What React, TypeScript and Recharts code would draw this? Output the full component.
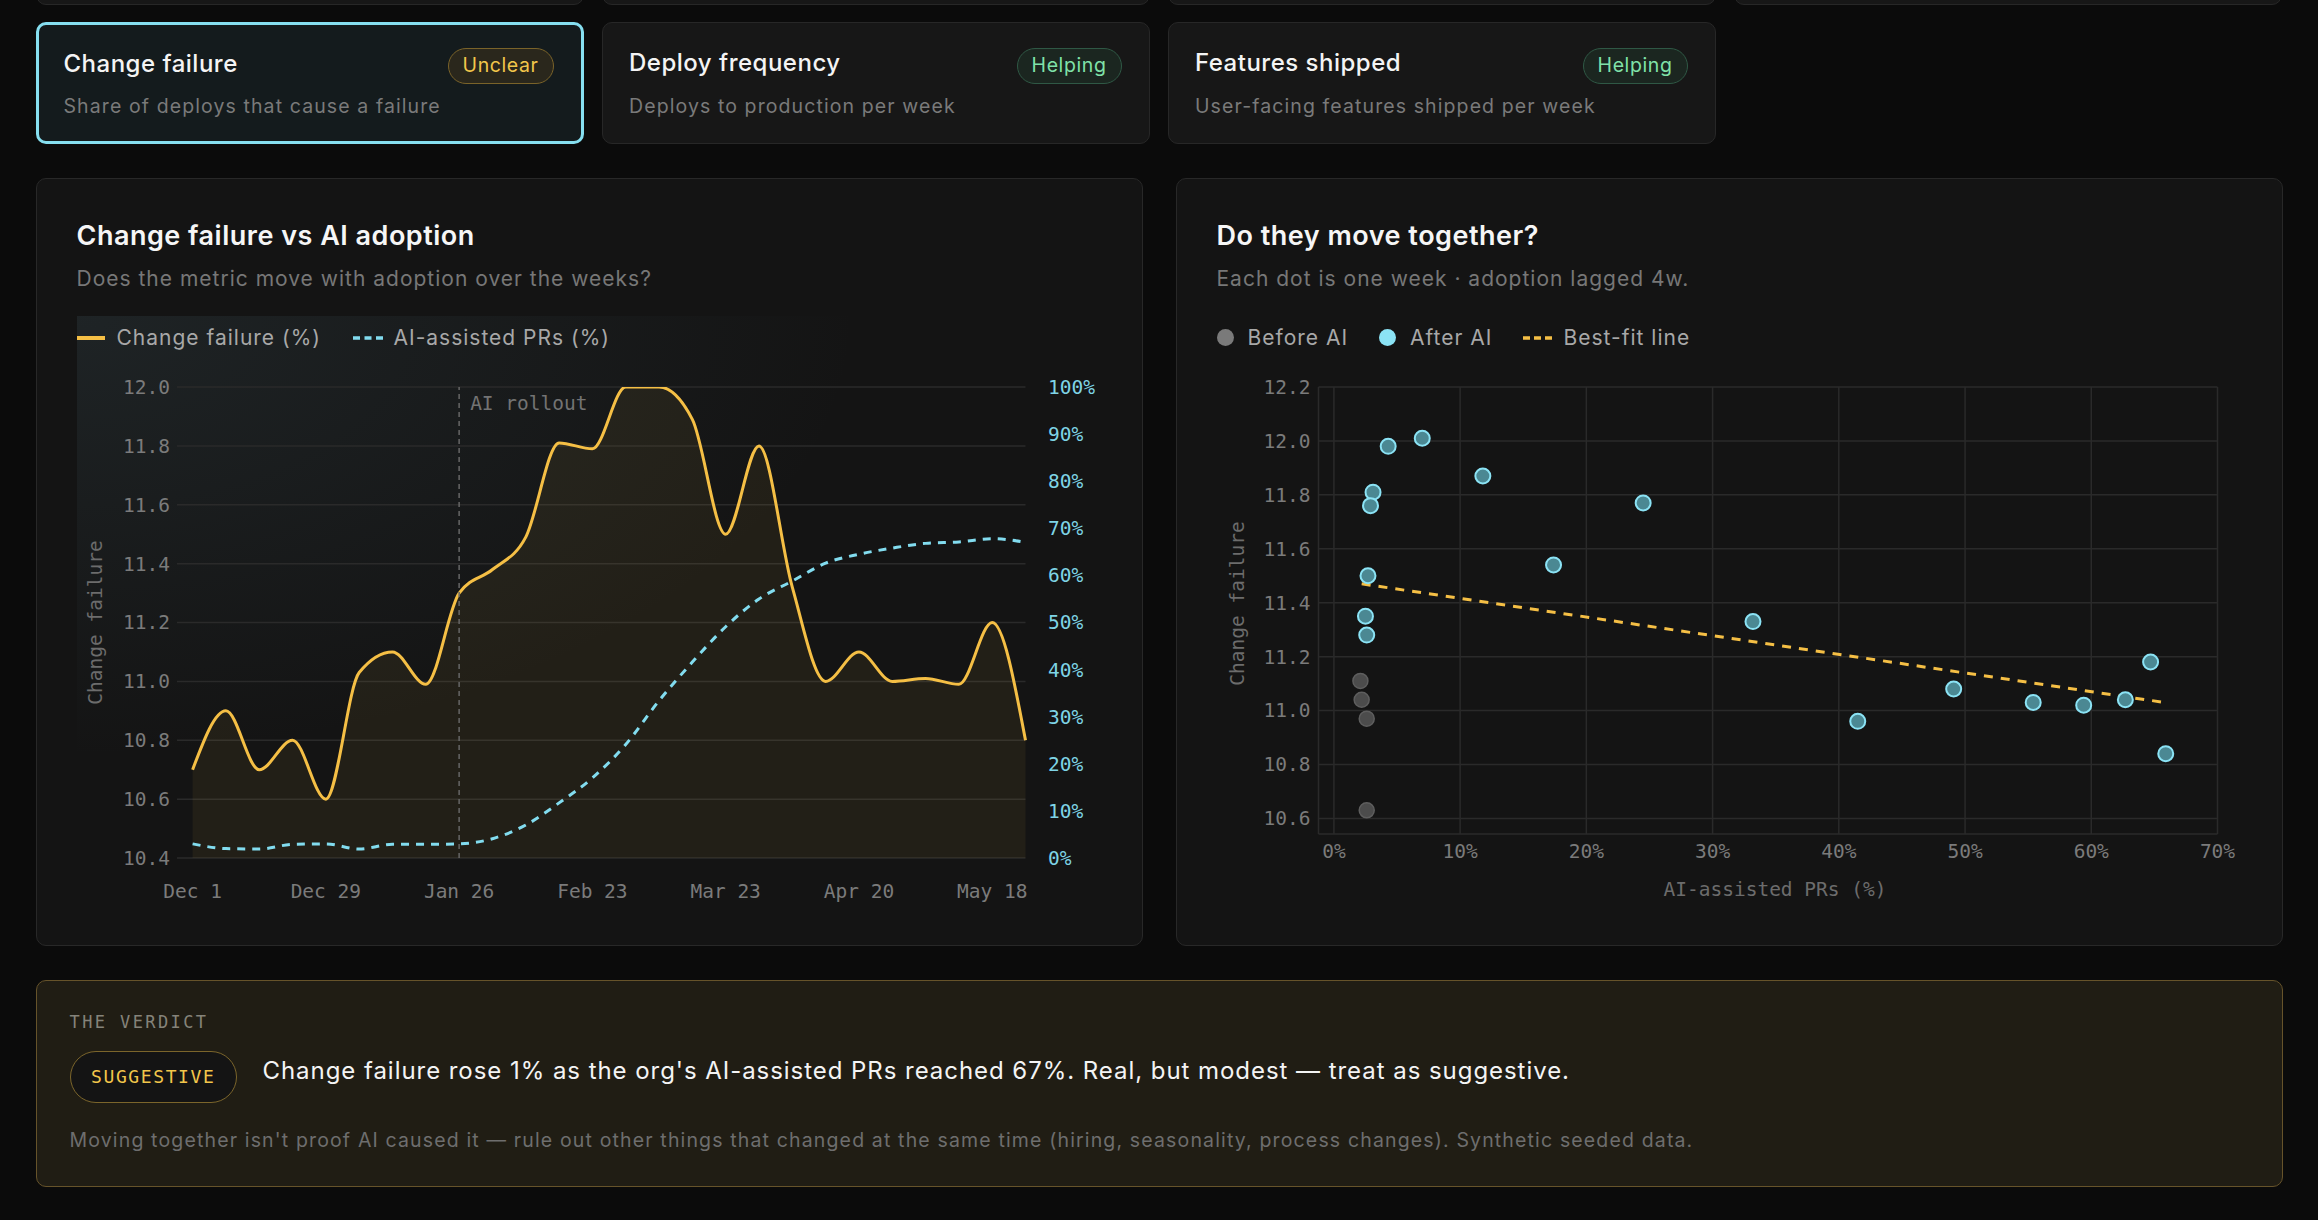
import React from "react";
import {
  ComposedChart,
  Area,
  Line,
  XAxis,
  YAxis,
  CartesianGrid,
  ReferenceLine,
  ScatterChart,
  Scatter,
} from "recharts";

const SANS = 'Inter, "Noto Sans", sans-serif';
const MONO = '"DejaVu Sans Mono", "Liberation Mono", monospace';

const YELLOW = "#f5bf45";
const CYAN = "#82dcef";
const GRID = "#2a2a2a";
const TICK = "#7b7b7b";

// weekly trend (left chart)
const weeks = [
  "Dec 1", "Dec 8", "Dec 15", "Dec 22", "Dec 29", "Jan 5", "Jan 12", "Jan 19",
  "Jan 26", "Feb 2", "Feb 9", "Feb 16", "Feb 23", "Mar 2", "Mar 9", "Mar 16",
  "Mar 23", "Mar 30", "Apr 6", "Apr 13", "Apr 20", "Apr 27", "May 4", "May 11",
  "May 18", "May 25",
];
const changeFailure = [
  10.7, 10.9, 10.7, 10.8, 10.6, 11.03, 11.1, 10.99, 11.3, 11.38, 11.49, 11.81,
  11.79, 12.0, 12.0, 11.89, 11.5, 11.8, 11.32, 11.0, 11.1, 11.0, 11.01, 10.99,
  11.2, 10.8,
];
const aiPrs = [
  3.0, 2.0, 1.9, 2.9, 3.0, 1.9, 2.9, 2.9, 3.0, 4.1, 7.0, 11.7, 17.0, 24.1, 33.4,
  41.6, 49.1, 55.0, 58.8, 62.6, 64.5, 65.8, 66.8, 67.1, 67.8, 67.0,
];
const failureTicks = [10.4, 10.6, 10.8, 11.0, 11.2, 11.4, 11.6, 11.8, 12.0];
const pctTicks = [0, 10, 20, 30, 40, 50, 60, 70, 80, 90, 100];
const rolloutWeek = "Jan 26";

// scatter (right chart)
const beforeX = [2.1, 2.2, 2.6, 2.6];
const beforeY = [11.11, 11.04, 10.97, 10.63];
const afterX = [
  2.6, 2.5, 2.7, 3.1, 2.9, 4.3, 7.0, 11.8, 17.4, 24.5, 33.2, 41.5, 49.1, 55.4,
  59.4, 62.7, 64.7, 65.9,
];
const afterY = [
  11.28, 11.35, 11.5, 11.81, 11.76, 11.98, 12.01, 11.87, 11.54, 11.77, 11.33,
  10.96, 11.08, 11.03, 11.02, 11.04, 11.18, 10.84,
];
const fitX = [2.2, 65.8];
const fitY = [11.47, 11.03];
const scatterXTicks = [0, 10, 20, 30, 40, 50, 60, 70];
const scatterYTicks = [10.6, 10.8, 11.0, 11.2, 11.4, 11.6, 11.8, 12.0, 12.2];

const trend = weeks.map((week, i) => ({ week, failure: changeFailure[i], ai: aiPrs[i] }));
const beforePts = beforeX.map((x, i) => ({ x, y: beforeY[i] }));
const afterPts = afterX.map((x, i) => ({ x, y: afterY[i] }));
const fitPts = fitX.map((x, i) => ({ x, y: fitY[i] }));

const cards = [
  { title: "Change failure", sub: "Share of deploys that cause a failure", badge: "Unclear", selected: true },
  { title: "Deploy frequency", sub: "Deploys to production per week", badge: "Helping", selected: false },
  { title: "Features shipped", sub: "User-facing features shipped per week", badge: "Helping", selected: false },
];
const colLeft = [35.5, 601.5, 1167.5, 1733.5];

function RolloutLabel(props: any) {
  const vb = props.viewBox || { x: 0, y: 0 };
  return (
    <text x={vb.x + 11} y={vb.y + 23} fill="#737373" fontSize={19.5} fontFamily={MONO}>
      AI rollout
    </text>
  );
}

// rotated axis title, centred on the axis box (with a small vertical nudge)
function AxisTitle(props: any) {
  const vb = props.viewBox || { x: 0, y: 0, height: 0 };
  const x = vb.x + props.off;
  const y = vb.y + vb.height / 2 + (props.shift || 0);
  return (
    <text
      x={x}
      y={y}
      transform={`rotate(-90 ${x} ${y})`}
      textAnchor="middle"
      dominantBaseline="central"
      fill="#6c6c6c"
      fontSize={19.5}
      fontFamily={MONO}
    >
      Change failure
    </text>
  );
}

function Badge({ kind, top }: { kind: string; top: number }) {
  const helping = kind === "Helping";
  return (
    <div
      style={{
        position: "absolute",
        right: 27,
        top,
        height: 36,
        padding: "0 14px",
        boxSizing: "border-box",
        borderRadius: 18,
        border: `1.5px solid ${helping ? "#2f5845" : "#7a6329"}`,
        background: helping ? "#1b2620" : "#2a271c",
        color: helping ? "#80e2a9" : "#f2c64b",
        fontSize: 19.5,
        letterSpacing: 0.6,
        lineHeight: "33px",
        fontFamily: SANS,
      }}
    >
      {kind}
    </div>
  );
}

function Card({ c, left }: { c: (typeof cards)[number]; left: number }) {
  const b = c.selected ? 3 : 1.5;
  return (
    <div
      style={{
        position: "absolute",
        left,
        top: 22,
        width: 548,
        height: 122,
        boxSizing: "border-box",
        borderRadius: 10,
        border: c.selected ? "3px solid #86dff0" : "1.5px solid #272727",
        background: c.selected ? "#141b1d" : "#171717",
      }}
    >
      <div
        style={{
          position: "absolute",
          left: 28 - b,
          top: 25.5 - b,
          fontSize: 24,
          fontWeight: 500,
          letterSpacing: 0.5,
          lineHeight: "32px",
          color: "#f4f4f4",
        }}
      >
        {c.title}
      </div>
      <div
        style={{
          position: "absolute",
          left: 28 - b,
          top: 70.4 - b,
          fontSize: 19.5,
          letterSpacing: 1.1,
          lineHeight: "28px",
          color: "#7a7a7a",
        }}
      >
        {c.sub}
      </div>
      <Badge kind={c.badge} top={26 - b} />
    </div>
  );
}

const panelStyle: React.CSSProperties = {
  position: "absolute",
  top: 177.5,
  width: 1107.5,
  height: 768.5,
  boxSizing: "border-box",
  borderRadius: 10,
  border: "1.5px solid #282828",
  background: "#141414",
};

function PanelHead({ title, sub }: { title: string; sub: string }) {
  return (
    <>
      <div
        style={{
          position: "absolute",
          left: 40,
          top: 39,
          fontSize: 27,
          fontWeight: 600,
          letterSpacing: 0.5,
          lineHeight: "36px",
          color: "#f6f6f6",
        }}
      >
        {title}
      </div>
      <div
        style={{
          position: "absolute",
          left: 40,
          top: 85,
          fontSize: 21,
          letterSpacing: 1,
          lineHeight: "30px",
          color: "#777",
        }}
      >
        {sub}
      </div>
    </>
  );
}

function LegendText({ left, children }: { left: number; children: React.ReactNode }) {
  return (
    <div
      style={{
        position: "absolute",
        left,
        top: 144,
        fontSize: 21,
        letterSpacing: 1,
        lineHeight: "30px",
        color: "#a8a8a8",
        whiteSpace: "nowrap",
      }}
    >
      {children}
    </div>
  );
}

export default function App() {
  return (
    <div
      style={{
        position: "fixed",
        left: 0,
        top: 0,
        width: 2318,
        height: 1220,
        background: "#0b0b0b",
        fontFamily: SANS,
        overflow: "hidden",
      }}
    >
      {/* partial cards of the row above */}
      {colLeft.map((l, i) => (
        <div
          key={"top" + i}
          style={{
            position: "absolute",
            left: l,
            top: -120,
            width: 548,
            height: 125,
            boxSizing: "border-box",
            borderRadius: 10,
            border: "1.5px solid #272727",
            background: "#171717",
          }}
        />
      ))}
      {cards.map((c, i) => (
        <Card key={c.title} c={c} left={colLeft[i]} />
      ))}

      {/* left panel */}
      <div style={{ ...panelStyle, left: 35.5 }}>
        <PanelHead title="Change failure vs AI adoption" sub="Does the metric move with adoption over the weeks?" />
        <div
          style={{
            position: "absolute",
            left: 40,
            top: 137,
            width: 1026,
            height: 590,
            background:
              "radial-gradient(ellipse 780px 440px at 0 0, rgba(72,98,108,0.2), rgba(72,98,108,0) 100%)",
          }}
        />
        <div style={{ position: "absolute", left: 40, top: 157, width: 28, height: 4, background: YELLOW }} />
        <LegendText left={80}>Change failure (%)</LegendText>
        <svg style={{ position: "absolute", left: 316, top: 155 }} width={30} height={8}>
          <line x1={0} y1={4} x2={30} y2={4} stroke={CYAN} strokeWidth={3.5} strokeDasharray="7 4.5" />
        </svg>
        <LegendText left={357}>AI-assisted PRs (%)</LegendText>
        <div style={{ position: "absolute", left: 40, top: 187 }}>
          <ComposedChart width={1026} height={540} data={trend} margin={{ top: 21, right: 0, bottom: 0, left: 0 }}>
            <CartesianGrid yAxisId="left" stroke={GRID} strokeWidth={1.5} vertical={false} />
            <XAxis
              dataKey="week"
              scale="point"
              interval={3}
              padding={{ left: 15.6, right: 0 }}
              axisLine={false}
              tickLine={false}
              tickSize={0}
              tickMargin={26}
              height={48}
              tick={{ fill: TICK, fontSize: 19.5, fontFamily: MONO }}
            />
            <YAxis
              yAxisId="left"
              domain={[10.4, 12]}
              ticks={failureTicks}
              allowDataOverflow
              tickFormatter={(v: number) => v.toFixed(1)}
              width={100}
              axisLine={false}
              tickLine={false}
              tickSize={0}
              tickMargin={7}
              tick={{ fill: TICK, fontSize: 19.5, fontFamily: MONO }}
              label={<AxisTitle off={18} shift={0} />}
            />
            <YAxis
              yAxisId="right"
              orientation="right"
              domain={[0, 100]}
              ticks={pctTicks}
              tickFormatter={(v: number) => `${v}%`}
              width={77.5}
              axisLine={false}
              tickLine={false}
              tickSize={0}
              tickMargin={22.5}
              tick={{ fill: "#7fd4e6", fontSize: 19.5, fontFamily: MONO }}
            />
            <ReferenceLine
              yAxisId="left"
              x={rolloutWeek}
              stroke="#666"
              strokeWidth={1.5}
              strokeDasharray="5 4"
              label={<RolloutLabel />}
            />
            <Area
              yAxisId="left"
              type="monotone"
              dataKey="failure"
              stroke={YELLOW}
              strokeWidth={3}
              fill={YELLOW}
              fillOpacity={0.065}
              dot={false}
              activeDot={false}
              isAnimationActive={false}
            />
            <Line
              yAxisId="right"
              type="monotone"
              dataKey="ai"
              stroke={CYAN}
              strokeWidth={3}
              strokeDasharray="8 7"
              dot={false}
              activeDot={false}
              isAnimationActive={false}
            />
          </ComposedChart>
        </div>
      </div>

      {/* right panel */}
      <div style={{ ...panelStyle, left: 1175.5 }}>
        <PanelHead title="Do they move together?" sub="Each dot is one week · adoption lagged 4w." />
        <div style={{ position: "absolute", left: 40.5, top: 150.5, width: 17, height: 17, borderRadius: 9, background: "#7a7a7a" }} />
        <LegendText left={71}>Before AI</LegendText>
        <div style={{ position: "absolute", left: 202.5, top: 150.5, width: 17, height: 17, borderRadius: 9, background: "#8be3f5" }} />
        <LegendText left={233.5}>After AI</LegendText>
        <svg style={{ position: "absolute", left: 346, top: 155 }} width={30} height={8}>
          <line x1={0} y1={4} x2={29} y2={4} stroke={YELLOW} strokeWidth={3.5} strokeDasharray="7 4" />
        </svg>
        <LegendText left={387}>Best-fit line</LegendText>
        <div style={{ position: "absolute", left: 40, top: 187 }}>
          <ScatterChart width={1026} height={540} margin={{ top: 21, right: 25.5, bottom: 0, left: 0 }}>
            <CartesianGrid stroke={GRID} strokeWidth={1.5} />
            <XAxis
              type="number"
              dataKey="x"
              domain={[0, 70]}
              ticks={scatterXTicks}
              tickFormatter={(v: number) => `${v}%`}
              padding={{ left: 15.4, right: 0 }}
              axisLine={false}
              tickLine={false}
              tickSize={0}
              tickMargin={10}
              height={72}
              tick={{ fill: TICK, fontSize: 19.5, fontFamily: MONO }}
              label={{
                value: "AI-assisted PRs (%)",
                position: "insideBottom",
                offset: 10,
                dx: 7,
                style: { fill: "#6c6c6c", fontSize: 19.5, fontFamily: MONO },
              }}
            />
            <YAxis
              type="number"
              dataKey="y"
              domain={[10.6, 12.2]}
              ticks={scatterYTicks}
              tickFormatter={(v: number) => v.toFixed(1)}
              padding={{ top: 0, bottom: 15.6 }}
              width={101.5}
              axisLine={false}
              tickLine={false}
              tickSize={0}
              tickMargin={8}
              tick={{ fill: TICK, fontSize: 19.5, fontFamily: MONO }}
              label={<AxisTitle off={20} shift={-7} />}
            />
            <Scatter
              data={fitPts}
              line={{ stroke: YELLOW, strokeWidth: 3, strokeDasharray: "9 8" }}
              shape={() => <g />}
              isAnimationActive={false}
            />
            <Scatter
              data={beforePts}
              shape={(p: any) => (
                <circle cx={p.cx} cy={p.cy} r={7.5} fill="#4c4c4c" stroke="#5e5e5e" strokeWidth={1.5} />
              )}
              isAnimationActive={false}
            />
            <Scatter
              data={afterPts}
              shape={(p: any) => (
                <circle cx={p.cx} cy={p.cy} r={7.5} fill="#4b8893" stroke="#8be3f5" strokeWidth={2} />
              )}
              isAnimationActive={false}
            />
          </ScatterChart>
        </div>
      </div>

      {/* verdict */}
      <div
        style={{
          position: "absolute",
          left: 35.5,
          top: 980,
          width: 2247,
          height: 207,
          boxSizing: "border-box",
          borderRadius: 10,
          border: "1.5px solid #66532a",
          background: "#201d14",
        }}
      >
        <div
          style={{
            position: "absolute",
            left: 33,
            top: 28,
            fontFamily: MONO,
            fontSize: 17,
            letterSpacing: 2.4,
            lineHeight: "26px",
            color: "#85837a",
          }}
        >
          THE VERDICT
        </div>
        <div
          style={{
            position: "absolute",
            left: 33,
            top: 70,
            width: 167.5,
            height: 52,
            boxSizing: "border-box",
            borderRadius: 26,
            border: "1.5px solid #7b652b",
            background: "#141414",
            color: "#f2c64b",
            fontFamily: MONO,
            fontSize: 18,
            letterSpacing: 1.6,
            lineHeight: "49px",
            textAlign: "center",
          }}
        >
          SUGGESTIVE
        </div>
        <div
          style={{
            position: "absolute",
            left: 226,
            top: 73,
            fontSize: 24,
            letterSpacing: 0.95,
            lineHeight: "34px",
            color: "#f4f4f4",
            whiteSpace: "nowrap",
          }}
        >
          Change failure rose 1% as the org's AI-assisted PRs reached 67%. Real, but modest — treat as suggestive.
        </div>
        <div
          style={{
            position: "absolute",
            left: 33,
            top: 145,
            fontSize: 19.5,
            letterSpacing: 1.15,
            lineHeight: "28px",
            color: "#6e6e6e",
            whiteSpace: "nowrap",
          }}
        >
          Moving together isn't proof AI caused it — rule out other things that changed at the same time (hiring,
          seasonality, process changes). Synthetic seeded data.
        </div>
      </div>
    </div>
  );
}
